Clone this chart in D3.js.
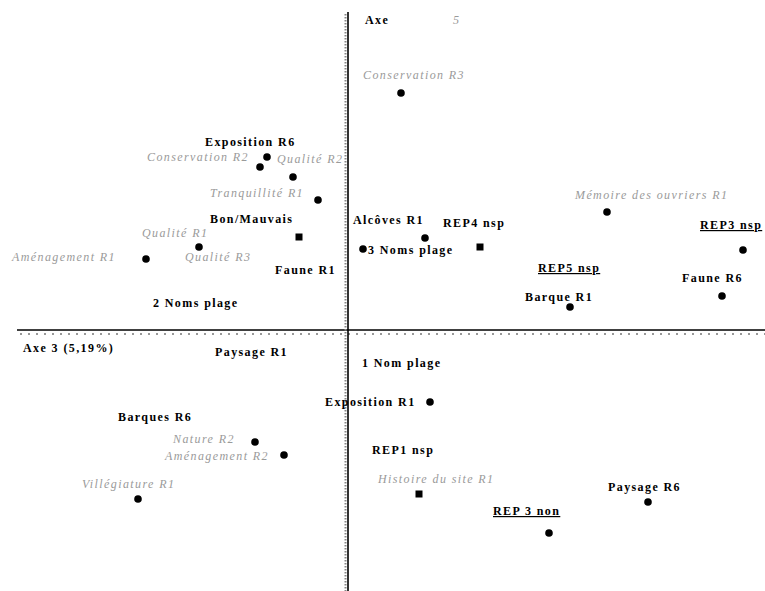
<!DOCTYPE html>
<html>
<head>
<meta charset="utf-8">
<script src="https://cdn.jsdelivr.net/npm/d3@7"></script>
<style>
  html, body { margin: 0; padding: 0; background: #fff; }
  svg text { font-family: "Liberation Serif", "Times New Roman", serif; font-size: 12px; letter-spacing: 1.4px; }
  .lab-active { fill: #000; font-weight: bold; }
  .lab-illus { fill: #9a9a9a; font-style: italic; }
  .lab-modal { fill: #000; font-weight: bold; text-decoration: underline; }
</style>
</head>
<body>
<div id="chart"></div>
<script>
// point coordinates (factor scores, axis 3 horizontal, axis 5 vertical)
const pointNames = [
  "Conservation R3", "Exposition R6", "Conservation R2", "Qualité R2", "Tranquillité R1",
  "Bon/Mauvais", "Qualité R1", "Aménagement R1", "Alcôves R1", "3 Noms plage",
  "REP4 nsp", "Mémoire des ouvriers R1", "REP3 nsp", "Faune R6", "Barque R1",
  "Exposition R1", "Nature R2", "Aménagement R2", "Villégiature R1", "Histoire du site R1",
  "Paysage R6", "REP 3 non"
];
const pointX = [0.53, -0.81, -0.88, -0.55, -0.30, -0.49, -1.49, -2.02, 0.15, 0.77,
  1.32, 2.59, 3.95, 3.74, 2.22, 0.82, -0.93, -0.64, -2.10, 0.71, 3.00, 2.01];
const pointY = [2.37, 1.73, 1.63, 1.53, 1.30, 0.93, 0.83, 0.71, 0.81, 0.92,
  0.83, 1.18, 0.80, 0.34, 0.23, -0.72, -1.12, -1.25, -1.69, -1.64, -1.72, -2.03];
const pointShape = ["circle", "circle", "circle", "circle", "circle", "square", "circle", "circle", "circle", "circle",
  "square", "circle", "circle", "circle", "circle", "circle", "circle", "circle", "circle", "square", "circle", "circle"];

// labels as they sit on the map (left edge, baseline), in factor units
const labelTexts = [
  "Axe", "5", "Axe 3 (5,19%)",
  "Conservation R3", "Exposition R6", "Conservation R2", "Qualité R2", "Tranquillité R1",
  "Bon/Mauvais", "Qualité R1", "Aménagement R1", "Qualité R3", "Faune R1", "2 Noms plage",
  "Mémoire des ouvriers R1", "Alcôves R1", "REP4 nsp", "3 Noms plage", "REP3 nsp",
  "REP5 nsp", "Faune R6", "Barque R1",
  "Paysage R1", "Barques R6", "Nature R2", "Aménagement R2", "Villégiature R1",
  "1 Nom plage", "Exposition R1", "REP1 nsp", "Histoire du site R1", "Paysage R6", "REP 3 non"
];
const labelX = [0.17, 1.05, -3.25,
  0.15, -1.43, -2.01, -0.71, -1.38,
  -1.38, -2.06, -3.36, -1.63, -0.73, -1.95,
  2.27, 0.05, 0.95, 0.20, 3.52,
  1.90, 3.34, 1.77,
  -1.33, -2.30, -1.75, -1.83, -2.66,
  0.14, -0.23, 0.24, 0.30, 2.60, 1.45];
const labelY = [3.06, 3.06, -0.22,
  2.51, 1.84, 1.69, 1.67, 1.33,
  1.07, 0.93, 0.69, 0.69, 0.56, 0.23,
  1.31, 1.06, 1.03, 0.76, 1.01,
  0.58, 0.48, 0.29,
  -0.26, -0.91, -1.13, -1.30, -1.58,
  -0.37, -0.76, -1.24, -1.53, -1.61, -1.85];
const labelGroup = ["active", "illus", "active",
  "illus", "active", "illus", "illus", "illus",
  "active", "illus", "illus", "illus", "active", "active",
  "illus", "active", "active", "active", "modal",
  "modal", "active", "active",
  "active", "active", "illus", "illus", "illus",
  "active", "active", "active", "illus", "active", "modal"];

const width = 765, height = 591;

const x = d3.scaleLinear().domain([-3.48, 4.17]).range([0, width]);
const y = d3.scaleLinear().domain([3.30, -2.61]).range([0, height]);

const svg = d3.select("#chart").append("svg")
  .attr("width", width).attr("height", height);

// axes: solid line with a dotted companion
const x0 = x(0), y0 = y(0);
svg.append("line")
  .attr("x1", 17).attr("x2", width).attr("y1", y0).attr("y2", y0)
  .attr("stroke", "#000").attr("stroke-width", 1.6);
svg.append("line")
  .attr("x1", 20).attr("x2", width).attr("y1", y0 + 4).attr("y2", y0 + 4)
  .attr("stroke", "#999").attr("stroke-width", 2).attr("stroke-dasharray", "2,6");

svg.append("line")
  .attr("x1", x0).attr("x2", x0).attr("y1", 12).attr("y2", height)
  .attr("stroke", "#000").attr("stroke-width", 1.6);
svg.append("line")
  .attr("x1", x0 - 2.5).attr("x2", x0 - 2.5).attr("y1", 14).attr("y2", height)
  .attr("stroke", "#888").attr("stroke-width", 2).attr("stroke-dasharray", "1.5,1.5");

// markers
const points = pointNames.map((n, i) => ({ name: n, x: pointX[i], y: pointY[i], shape: pointShape[i] }));

svg.append("g").selectAll("circle")
  .data(points.filter(d => d.shape === "circle"))
  .join("circle")
  .attr("cx", d => x(d.x)).attr("cy", d => y(d.y))
  .attr("r", 3.8).attr("fill", "#000");

svg.append("g").selectAll("rect")
  .data(points.filter(d => d.shape === "square"))
  .join("rect")
  .attr("x", d => x(d.x) - 3.5).attr("y", d => y(d.y) - 3.5)
  .attr("width", 7).attr("height", 7).attr("fill", "#000");

// labels
const labels = labelTexts.map((t, i) => ({ text: t, x: labelX[i], y: labelY[i], group: labelGroup[i] }));

svg.append("g").selectAll("text")
  .data(labels)
  .join("text")
  .attr("class", d => "lab-" + d.group)
  .attr("x", d => x(d.x)).attr("y", d => y(d.y))
  .text(d => d.text);
</script>
</body>
</html>
